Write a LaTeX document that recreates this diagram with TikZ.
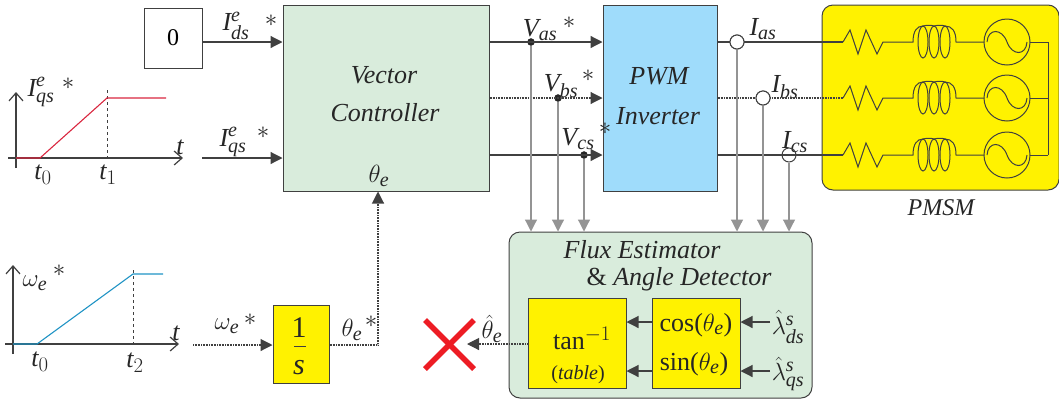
\documentclass[tikz,border=0pt]{standalone}
\usepackage{amsmath}
\usepackage{fontspec}
\setmainfont{Liberation Serif}
\usetikzlibrary{arrows.meta}
\DeclareMathSizes{26}{26}{20}{16}
\definecolor{blockgreen}{HTML}{D9ECDC}
\definecolor{blockblue}{HTML}{9FDCFB}
\definecolor{blockyellow}{HTML}{FFF200}
\definecolor{wire}{HTML}{404040}
\definecolor{tapwire}{HTML}{949494}
\definecolor{rampred}{HTML}{D9263F}
\definecolor{rampblue}{HTML}{1F93C4}
\definecolor{crossred}{HTML}{ED1C24}
\newcommand{\tm}[1]{\mathit{#1}}
\begin{document}
\begin{tikzpicture}
[x=1pt,y=-1pt,>={Stealth[length=12pt,width=12pt,inset=0pt]},
block/.style={draw=wire,inner sep=0pt,line width=1pt},
lbl/.style={inner sep=0pt,text=black!85,font=\fontsize{26}{28}\selectfont},
smalllbl/.style={inner sep=0pt,text=black!85,font=\fontsize{24}{26}\selectfont},
point/.style={draw=black!85,circle,fill=black!85,inner sep=0pt,minimum size=7pt},
sensor/.style={draw=wire,circle,inner sep=0pt,minimum size=14pt,line width=1pt},
wireline/.style={draw=wire,line width=1.2pt},
dotline/.style={draw=wire,line width=1.1pt,dash pattern=on 1pt off 0.6pt},
tapline/.style={draw=tapwire,line width=1.2pt},
axisline/.style={draw=wire,line width=1.2pt,-{Straight Barb[length=8pt,width=14pt]}},
guide/.style={draw=wire,line width=0.9pt,dash pattern=on 3pt off 3pt},
coil/.style={draw=wire,line width=1pt},
]
\useasboundingbox (0,0) rectangle (1059,400);

% blocks
\node (zero) at (173,38)[block,fill=white,minimum width=58pt,minimum height=60pt,font=\fontsize{24}{26}\selectfont]{0};
\node (vc) at (386,98)[block,fill=blockgreen,minimum width=206pt,minimum height=186pt]{};
\node (pwm) at (660,98)[block,fill=blockblue,minimum width=114pt,minimum height=186pt]{};
\node (pmsm) at (940.5,97.5)[block,fill=blockyellow,rounded corners=11pt,minimum width=237pt,minimum height=185pt]{};
\node (flux) at (660.5,315)[block,fill=blockgreen,rounded corners=11pt,minimum width=303pt,minimum height=166pt]{};
\node (tan) at (577,343)[block,fill=blockyellow,minimum width=98pt,minimum height=90pt]{};
\node (trig) at (696,343)[block,fill=blockyellow,minimum width=88pt,minimum height=90pt]{};
\node (integ) at (301,344)[block,fill=blockyellow,minimum width=56pt,minimum height=78pt]{};

% block texts
\node (vctext) at (384,75)[lbl]{\itshape Vector};
\node (vctexttwo) at (385,113)[lbl]{\itshape Controller};
\node (vctheta) at (379,176)[lbl]{$\theta_{\tm{e}}$};
\node (pwmtext) at (659,76)[lbl]{\itshape PWM};
\node (pwmtexttwo) at (658,116)[lbl]{\itshape Inverter};
\node (pmsmtext) at (941,208)[smalllbl]{\itshape PMSM};
\node (fluxtext) at (642,250)[lbl]{\itshape Flux Estimator};
\node (fluxtexttwo) at (679,279)[lbl]{\& \itshape Angle Detector};
\node (tantext) at (582,338)[lbl]{tan$^{-1}$};
\node (tabletext) at (578,375)[inner sep=0pt,text=black!85,font=\fontsize{20}{22}\selectfont]{(\textit{table})};
\node (costext) at (696,325)[lbl]{cos($\theta_{\tm{e}}$)};
\node (sintext) at (694,364)[lbl]{sin($\theta_{\tm{e}}$)};
\node (integone) at (299,328)[inner sep=0pt,text=black!85,font=\fontsize{30}{32}\selectfont]{1};
\node (integs) at (299,368)[inner sep=0pt,text=black!85,font=\fontsize{30}{32}\selectfont]{\itshape s};
\coordinate (barl) at (294,346);
\coordinate (barr) at (306,346);
\draw[draw=wire,line width=1pt] (barl) -- (barr);

% signal labels
\node (ids) at (236,26)[lbl]{$\tm{I}^{\tm{e}}_{\tm{ds}}$};
\node (idsstar) at (271,21)[lbl]{$\ast$};
\node (iqs) at (233,142)[lbl]{$\tm{I}^{\tm{e}}_{\tm{qs}}$};
\node (iqsstar) at (263,133)[lbl]{$\ast$};
\node (vas) at (540,30)[lbl]{$\tm{V}_{\tm{as}}$};
\node (vasstar) at (569,23)[lbl]{$\ast$};
\node (vbs) at (561,86)[lbl]{$\tm{V}_{\tm{bs}}$};
\node (vbsstar) at (588,76)[lbl]{$\ast$};
\node (vcs) at (578,139)[lbl]{$\tm{V}_{\tm{cs}}$};
\node (vcsstar) at (605,129)[lbl]{$\ast$};
\node (ias) at (763,29)[lbl]{$\tm{I}_{\tm{as}}$};
\node (ibs) at (785,87)[lbl]{$\tm{I}_{\tm{bs}}$};
\node (ics) at (795,142)[lbl]{$\tm{I}_{\tm{cs}}$};
\node (wref) at (227,326)[lbl]{$\omega_{\tm{e}}$};
\node (wrefstar) at (250,320)[lbl]{$\ast$};
\node (thref) at (352,330)[lbl]{$\theta_{\tm{e}}$};
\node (threfstar) at (371,322)[lbl]{$\ast$};
\node (thhat) at (492,329)[lbl]{$\hat{\theta}_{\tm{e}}$};
\node (lds) at (788,327)[lbl]{$\hat{\lambda}^{\tm{s}}_{\tm{ds}}$};
\node (lqs) at (788,374)[lbl]{$\hat{\lambda}^{\tm{s}}_{\tm{qs}}$};

% forward paths
\coordinate (iqsin) at (202,158);
\coordinate (wrefin) at (193,345);
\coordinate (thcorner) at (378,345);
\draw[wireline,->] (zero.east |- 0,42) -- (vc.west |- 0,42);
\draw[wireline,->] (iqsin) -- (iqsin -| vc.west);
\draw[dotline,->] (wrefin) -- (wrefin -| integ.west);
\draw[dotline,->] (integ.east |- thcorner) -- (thcorner) -- (thcorner |- vc.south);

\node (dota) at (531,42)[point]{};
\node (dotb) at (558,98)[point]{};
\node (dotc) at (584,155)[point]{};
\draw[wireline,->] (vc.east |- dota) -- (pwm.west |- dota);
\draw[dotline,->] (vc.east |- dotb) -- (pwm.west |- dotb);
\draw[wireline,->] (vc.east |- dotc) -- (pwm.west |- dotc);

\node (sensa) at (737,42)[sensor]{};
\node (sensb) at (763,98)[sensor]{};
\node (sensc) at (789,155)[sensor]{};
\coordinate (ra) at (843,42);
\coordinate (rb) at (843,98);
\coordinate (rc) at (843,155);
\draw[wireline] (pwm.east |- sensa) -- (ra);
\draw[dotline] (pwm.east |- sensb) -- (rb);
\draw[wireline] (pwm.east |- sensc) -- (rc);
\node (sensawhite) at (737,42)[sensor,fill=white]{};
\node (sensbwhite) at (763,98)[sensor,fill=white]{};

% measured signals
\foreach \tap in {dota,dotb,dotc,sensa,sensb,sensc}
  \draw[tapline,-{Stealth[length=12pt,width=12pt,inset=0pt,color=tapwire]}] (\tap) -- (\tap |- flux.north);

% estimator
\draw[wireline,->] (trig.west |- 0,322) -- (tan.east |- 0,322);
\draw[wireline,->] (trig.west |- 0,371) -- (tan.east |- 0,371);
\coordinate (ldsend) at (770,322);
\coordinate (lqsend) at (770,371);
\draw[wireline,->] (ldsend) -- (ldsend -| trig.east);
\draw[wireline,->] (lqsend) -- (lqsend -| trig.east);
\coordinate (crossa) at (425,320);
\coordinate (crossb) at (474,369);
\coordinate (crossc) at (425,369);
\coordinate (crossd) at (474,320);
\draw[dotline,->] (tan.west |- 0,344) -- (467,344);
\draw[draw=crossred,line width=5.5pt] (crossa) -- (crossb);
\draw[draw=crossred,line width=5.5pt] (crossc) -- (crossd);

% motor phases
\foreach \yy in {42,98,155}{
  \draw[coil] (843,\yy) -- (850,\yy-12) -- (858,\yy+12) -- (866,\yy-12) -- (877,\yy+12) -- (883,\yy) -- (913,\yy)
    .. controls (913,\yy-11) and (917,\yy-16) .. (923,\yy-16)
    .. controls (927,\yy-17) and (931,\yy-17) .. (934,\yy-16)
    .. controls (938,\yy-17) and (942,\yy-17) .. (945,\yy-16)
    .. controls (952,\yy-16) and (956,\yy-11) .. (956,\yy) -- (984,\yy);
  \draw[coil] (923,\yy) ellipse (5 and 16);
  \draw[coil] (934,\yy) ellipse (5 and 16);
  \draw[coil] (945,\yy) ellipse (5 and 16);
  \draw[coil] (1007,\yy) circle (23);
  \draw[coil] (987,\yy) .. controls (988,\yy-14) and (1002,\yy-14) .. (1007,\yy) .. controls (1012,\yy+14) and (1026,\yy+14) .. (1027,\yy);
  \draw[coil] (1030,\yy) -- (1048,\yy);
}
\coordinate (stara) at (1048,42);
\coordinate (starc) at (1048,155);
\draw[coil] (stara) -- (starc);

% speed and current profiles
\coordinate (qo) at (16,158);
\coordinate (qa) at (40,158);
\coordinate (qb) at (107,98);
\coordinate (qc) at (166,98);
\draw[axisline] (8,158) -- (183,158);
\draw[axisline] (16,168) -- (16,92);
\draw[guide] (107,90) -- (107,158);
\draw[draw=rampred,line width=1.1pt] (qo) -- (qa) -- (qb) -- (qc);
\node (iqsplot) at (41,92)[lbl]{$\tm{I}^{\tm{e}}_{\tm{qs}}$};
\node (iqsplotstar) at (68,84)[lbl]{$\ast$};
\node (tzero) at (43,175)[lbl]{$\tm{t}_0$};
\node (tone) at (108,175)[lbl]{$\tm{t}_1$};
\node (tq) at (180,147)[lbl]{$\tm{t}$};

\coordinate (wo) at (13,344);
\coordinate (wa) at (37,344);
\coordinate (wb) at (133,274);
\coordinate (wc) at (163,274);
\draw[axisline] (5,344) -- (179,344);
\draw[axisline] (13,354) -- (13,265);
\draw[guide] (133,270) -- (133,344);
\draw[draw=rampblue,line width=1.1pt] (wo) -- (wa) -- (wb) -- (wc);
\node (wplot) at (35,283)[lbl]{$\omega_{\tm{e}}$};
\node (wplotstar) at (59,271)[lbl]{$\ast$};
\node (tzerob) at (40,362)[lbl]{$\tm{t}_0$};
\node (ttwo) at (135,363)[lbl]{$\tm{t}_2$};
\node (tw) at (176,333)[lbl]{$\tm{t}$};

\end{tikzpicture}
\end{document}
